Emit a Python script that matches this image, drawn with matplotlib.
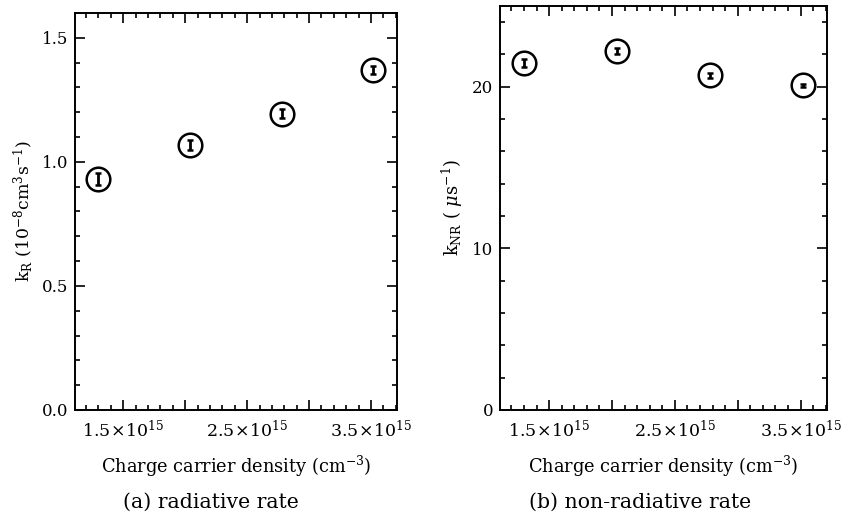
import matplotlib
matplotlib.use("Agg")
import numpy as np
from matplotlib import pyplot as plt
from matplotlib.ticker import MultipleLocator, FuncFormatter

plt.rcParams['font.family'] = ['DejaVu Serif']
plt.rcParams['mathtext.fontset'] = 'dejavuserif'

# data
density = [1.30e15, 2.04e15, 2.78e15, 3.52e15]
k_rad = [0.931, 1.068, 1.194, 1.371]
k_rad_err = [0.024, 0.020, 0.018, 0.016]
k_nonrad = [21.5, 22.2, 20.7, 20.1]
k_nonrad_err = [0.25, 0.18, 0.15, 0.10]
labelled_ticks = [1.5e15, 2.5e15, 3.5e15]


def density_label(v, pos):
    for t in labelled_ticks:
        if abs(v - t) < 1e13:
            return r'$%.1f\!\times\!10^{15}$' % (v / 1e15)
    return ''


def style_axes(ax):
    ax.set_xlim(1.11e15, 3.71e15)
    ax.xaxis.set_major_locator(MultipleLocator(0.5e15))
    ax.xaxis.set_minor_locator(MultipleLocator(0.1e15))
    ax.xaxis.set_major_formatter(FuncFormatter(density_label))
    ax.tick_params(which='both', direction='in', top=True, right=True,
                   width=1.2, labelsize=12.5, pad=7)
    ax.tick_params(axis='y', labelsize=12, pad=5)
    ax.tick_params(which='major', length=7)
    ax.tick_params(which='minor', length=3.5)
    for s in ax.spines.values():
        s.set_linewidth(1.4)
    ax.set_xlabel(r'Charge carrier density (cm$^{-3}$)', fontsize=12.8, labelpad=9)


fig = plt.figure(figsize=(8.49, 5.17), dpi=100)
ax1 = fig.add_axes([0.0883, 0.207, 0.3793, 0.768])
ax2 = fig.add_axes([0.589, 0.207, 0.385, 0.7814])

marker_kw = dict(fmt='o', ms=17, mfc='none', mec='black', mew=1.8,
                 ecolor='black', elinewidth=2.0, capsize=2.5, capthick=1.6,
                 color='black')

ax1.errorbar(density, k_rad, yerr=k_rad_err, **marker_kw)
ax1.set_ylim(0, 1.6)
ax1.yaxis.set_major_locator(MultipleLocator(0.5))
ax1.yaxis.set_minor_locator(MultipleLocator(0.1))
ax1.yaxis.set_major_formatter(FuncFormatter(lambda v, p: '%.1f' % v))
style_axes(ax1)
ax1.set_ylabel(r'k$_\mathrm{R}$ ($10^{-8}$cm$^3$s$^{-1}$)', fontsize=12.4, labelpad=5)

ax2.errorbar(density, k_nonrad, yerr=k_nonrad_err, **marker_kw)
ax2.set_ylim(0, 25)
ax2.yaxis.set_major_locator(MultipleLocator(10))
ax2.yaxis.set_minor_locator(MultipleLocator(2))
style_axes(ax2)
ax2.set_ylabel(r'k$_\mathrm{NR}$ ( $\mu$s$^{-1}$)', fontsize=12.8, labelpad=5)

fig.text(0.248, 0.017, '(a) radiative rate', ha='center', fontsize=14.7)
fig.text(0.754, 0.017, '(b) non-radiative rate', ha='center', fontsize=14.7)

fig.savefig('out.png', dpi=100, facecolor='white')
